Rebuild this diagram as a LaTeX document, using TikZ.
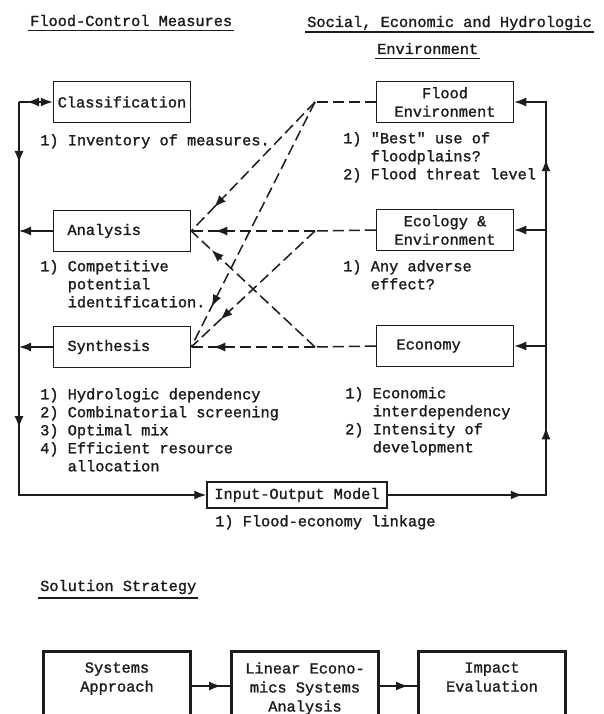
\documentclass[tikz,border=0pt]{standalone}
\usepackage{fontspec}
\setmainfont{Liberation Mono}[FakeBold=1.4, Ligatures=TeXOff]
\usepackage{tikz}
\usetikzlibrary{arrows.meta,decorations.markings}
\definecolor{ink}{HTML}{1C1C1C}
\newcommand{\ind}{\phantom{1) }}
\tikzset{>={Latex[length=12pt,width=9pt]}}

\begin{document}
\begin{tikzpicture}[x=1pt, y=-1pt,
    every node/.style={font=\fontsize{15.3pt}{18pt}\selectfont, text=ink},
    blk/.style={draw=ink, line width=1.5pt, minimum width=137pt, minimum height=41pt, inner sep=2pt, align=center,
      font=\fontsize{15.3pt}{18.5pt}\selectfont},
    lblk/.style={blk, text width=109pt, align=left, inner xsep=14pt},
    sbox/.style={draw=ink, line width=2.8pt, minimum width=147pt, align=center, anchor=north, inner ysep=11pt,
      text depth=80pt, font=\fontsize{15.3pt}{19pt}\selectfont},
    note/.style={anchor=north west, align=left, inner sep=0pt},
    hdr/.style={anchor=base west, inner xsep=2pt, inner ysep=0pt},
    uline/.style={draw=ink, line width=1.8pt},
    ln/.style={draw=ink, line width=1.5pt},
    dsh/.style={draw=ink, line width=1.5pt, dash pattern=on 11pt off 5pt},
    atip/.style={postaction={decorate, decoration={markings, mark=at position #1 with {\arrow{>}}}}},
    rtip/.style={postaction={decorate, decoration={markings, mark=at position #1 with {\arrowreversed{>}}}}}]
  \useasboundingbox (0,0) rectangle (604,714);
  \clip (0,0) rectangle (604,714);

  % headings
  \node[hdr] (hfc) at (28,26) {Flood-Control Measures};
  \draw[uline] ([yshift=-4.5pt]hfc.base west) -- ([yshift=-4.5pt]hfc.base east);
  \node[hdr] (hse) at (305,27) {Social, Economic and Hydrologic};
  \draw[uline] ([yshift=-5pt]hse.base west) -- ([yshift=-5pt]hse.base east);
  \node[hdr] (hen) at (375,54) {Environment};
  \draw[uline] ([yshift=-4.5pt]hen.base west) -- ([yshift=-4.5pt]hen.base east);

  % measures
  \node[blk] (cls) at (122,102) {Classification};
  \node[lblk] (ana) at (122,231) {Analysis};
  \node[lblk] (syn) at (122,347) {Synthesis};
  \node[note] (ncls) at (40,134) {1) Inventory of measures.};
  \node[note] (nana) at (40,260) {1) Competitive\\\ind potential\\\ind identification.};
  \node[note] (nsyn) at (40,388) {1) Hydrologic dependency\\2) Combinatorial screening\\3) Optimal mix\\4) Efficient resource\\\ind allocation};

  % environment
  \node[blk] (fenv) at (445,102) {Flood\\Environment};
  \node[blk] (eco) at (445,230) {Ecology \&\\Environment};
  \node[lblk, inner xsep=20pt, text width=97pt] (econ) at (445,346) {Economy};
  \node[note] (nfenv) at (343,132) {1) "Best" use of\\\ind floodplains?\\2) Flood threat level};
  \node[note] (neco) at (343,260) {1) Any adverse\\\ind effect?};
  \node[note] (necon) at (345,387) {1) Economic\\\ind interdependency\\2) Intensity of\\\ind development};

  \node[blk, minimum width=180pt, minimum height=26pt] (io) at (297,495) {Input-Output Model};
  \node[note] (nio) at (215,515) {1) Flood-economy linkage};

  % loop
  \coordinate (tl) at (19,102);
  \coordinate (bl) at (19,495);
  \coordinate (br) at (546,495);
  \coordinate (tr) at (546,102);
  \draw[ln, ->, rtip=8pt] (tl) -- (cls.west);
  \draw[ln, ->, atip=61pt, atip=326pt] (tl) -- (bl) -- (io.west);
  \draw[ln, ->] (ana.west) -- (ana.west -| tl);
  \draw[ln, ->] (syn.west) -- (syn.west -| tl);
  \draw[ln, ->, atip=135pt, atip=226pt, atip=494pt] (io.east) -- (br) -- (tr) -- (fenv.east);
  \draw[ln, ->] (eco.east -| tr) -- (eco.east);
  \draw[ln, ->] (econ.east -| tr) -- (econ.east);

  % dashed links
  \coordinate (j1) at (315,102);
  \coordinate (j2) at (315,231);
  \coordinate (j3) at (315,347);
  \draw[dsh] (fenv.west) -- (j1);
  \draw[dsh] (eco.west) -- (j2);
  \draw[dsh] (econ.west) -- (j3);
  \draw[dsh, atip=-33pt] (j1) -- (ana.east);
  \draw[dsh, atip=-45pt] (j1) -- (syn.east);
  \draw[dsh, atip=-24pt] (j2) -- (ana.east);
  \draw[dsh, atip=-40pt] (j2) -- (syn.east);
  \draw[dsh, atip=-28pt] (j3) -- (ana.east);
  \draw[dsh, atip=-22pt] (j3) -- (syn.east);

  % strategy
  \node[hdr] (hss) at (38,591) {Solution Strategy};
  \draw[uline] ([yshift=-7pt]hss.base west) -- ([yshift=-7pt]hss.base east);
  \node[sbox] (sys) at (117,650) {Systems\\Approach};
  \node[sbox] (lin) at (305,650) {Linear Econo-\\mics Systems\\Analysis};
  \node[sbox] (imp) at (492,650) {Impact\\Evaluation};
  \draw[ln, atip=-9pt] ([yshift=-36pt]sys.north east) -- ([yshift=-36pt]lin.north west);
  \draw[ln, atip=-9pt] ([yshift=-36pt]lin.north east) -- ([yshift=-36pt]imp.north west);
\end{tikzpicture}
\end{document}
